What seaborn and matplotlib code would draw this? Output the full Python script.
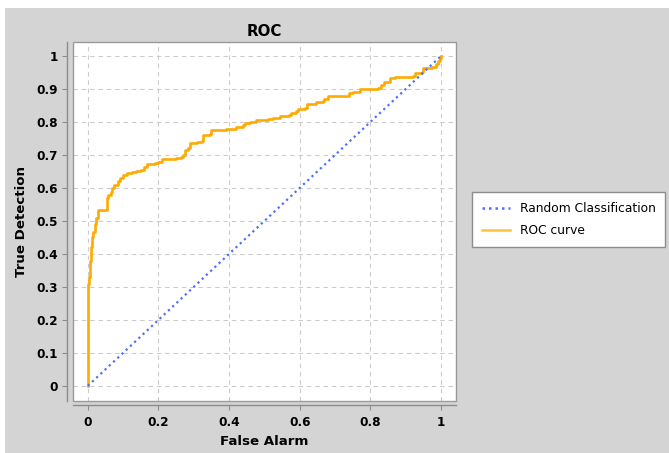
import matplotlib
matplotlib.use("Agg")
import matplotlib.pyplot as plt
from matplotlib.patches import Rectangle
from matplotlib.lines import Line2D
import seaborn as sns

# ROC operating points (false alarm rate, true detection rate)
fpr = [0.0, 0.0, 0.003, 0.006, 0.010, 0.013, 0.016, 0.020, 0.024, 0.030,
       0.052, 0.053, 0.058, 0.065, 0.068, 0.075, 0.085, 0.090, 0.100, 0.110,
       0.125, 0.135, 0.150, 0.160, 0.168, 0.190, 0.200, 0.210, 0.250, 0.265,
       0.270, 0.275, 0.285, 0.290, 0.310, 0.323, 0.327, 0.345, 0.350, 0.390,
       0.420, 0.440, 0.445, 0.460, 0.475, 0.510, 0.525, 0.545, 0.570, 0.575,
       0.590, 0.595, 0.615, 0.622, 0.645, 0.665, 0.670, 0.680, 0.720, 0.740,
       0.750, 0.770, 0.822, 0.830, 0.840, 0.855, 0.870, 0.920, 0.925, 0.945,
       0.950, 0.975, 0.985, 0.992, 0.996, 1.0]
tpr = [0.0, 0.310, 0.330, 0.380, 0.420, 0.450, 0.465, 0.490, 0.510, 0.533,
       0.533, 0.570, 0.578, 0.588, 0.600, 0.610, 0.622, 0.630, 0.638, 0.645,
       0.648, 0.652, 0.655, 0.662, 0.672, 0.677, 0.680, 0.688, 0.690, 0.695,
       0.700, 0.715, 0.720, 0.735, 0.738, 0.742, 0.760, 0.765, 0.776, 0.780,
       0.785, 0.790, 0.798, 0.800, 0.806, 0.808, 0.812, 0.818, 0.822, 0.828,
       0.832, 0.838, 0.842, 0.855, 0.860, 0.865, 0.870, 0.878, 0.880, 0.887,
       0.892, 0.900, 0.902, 0.912, 0.920, 0.932, 0.937, 0.938, 0.950, 0.952,
       0.965, 0.967, 0.975, 0.985, 0.995, 1.0]

# chance line
diag_x = [0.0, 1.0]
diag_y = [0.0, 1.0]

x_ticks = [0.0, 0.2, 0.4, 0.6, 0.8, 1.0]
x_tick_labels = ["0", "0.2", "0.4", "0.6", "0.8", "1"]
y_ticks = [0.0, 0.1, 0.2, 0.3, 0.4, 0.5, 0.6, 0.7, 0.8, 0.9, 1.0]
y_tick_labels = ["0", "0.1", "0.2", "0.3", "0.4", "0.5", "0.6", "0.7", "0.8", "0.9", "1"]

series_labels = ["Random Classification", "ROC curve"]

ORANGE = "#ffaa00"
BLUE = "#4f6ffa"
GRID = "#cccccc"
AXIS_GRAY = "#8c8c8c"
BG = "#d4d4d4"
DOTS = (0, (1.0, 1.6))

plt.rcParams["font.family"] = ["DejaVu Sans"]

W, H = 669, 453
fig = plt.figure(figsize=(W / 100, H / 100), dpi=100, facecolor="white")

# grey panel behind the chart (thin white margin at top and left)
fig.patches.append(Rectangle((5 / W, 0), 1 - 5 / W, 1 - 8 / H,
                             transform=fig.transFigure, facecolor=BG,
                             edgecolor="none", zorder=-10))

left, right, top, bottom = 73, 456, 42, 401
ax = fig.add_axes([left / W, 1 - bottom / H, (right - left) / W, (bottom - top) / H])
ax.set_facecolor("white")

sns.lineplot(x=fpr, y=tpr, ax=ax, color=ORANGE, lw=1.9, sort=False,
             estimator=None, drawstyle="steps-post", zorder=3, legend=False)
sns.lineplot(x=diag_x, y=diag_y, ax=ax, color=BLUE, lw=1.6, sort=False,
             estimator=None, zorder=4, legend=False)
ax.lines[-1].set_linestyle(DOTS)

ax.set_xlim(-0.042, 1.0425)
ax.set_ylim(-0.046, 1.0425)
ax.set_xticks(x_ticks)
ax.set_xticklabels(x_tick_labels)
ax.set_yticks(y_ticks)
ax.set_yticklabels(y_tick_labels)

# dashed grid: every 0.2 on x, every 0.1 on y
ax.grid(True, color=GRID, lw=0.8, linestyle=(0, (4, 3.5)), zorder=0)
ax.set_axisbelow(True)

# axis lines sit just outside the plot area
for side in ("top", "right"):
    ax.spines[side].set_visible(False)
ax.spines["left"].set_position(("outward", 4))
ax.spines["bottom"].set_position(("outward", 3))
for side in ("left", "bottom"):
    ax.spines[side].set_color(AXIS_GRAY)
    ax.spines[side].set_linewidth(1.0)

# outline of the plot area
ax.add_patch(Rectangle((0, 0), 1, 1, transform=ax.transAxes, fill=False,
                       edgecolor="#9a9a9a", lw=1.0, clip_on=False, zorder=5))

ax.tick_params(axis="both", direction="out", length=3.5, width=0.8,
               color=AXIS_GRAY, labelsize=8.7, labelcolor="black")
ax.tick_params(axis="x", pad=4.5)
ax.tick_params(axis="y", pad=3.5)
for lab in ax.get_xticklabels() + ax.get_yticklabels():
    lab.set_fontweight("bold")

ax.set_title("ROC", fontsize=10.8, fontweight="bold", pad=4)
ax.set_xlabel("False Alarm", fontsize=9.6, fontweight="bold", va="center")
ax.xaxis.set_label_coords(0.5, (bottom - 441.5) / (bottom - top))
ax.set_ylabel("True Detection", fontsize=9.6, fontweight="bold",
              va="center", ha="center")
ax.yaxis.set_label_coords((22 - left) / (right - left), 0.5)

handles = [Line2D([], [], color=BLUE, lw=1.8, linestyle=DOTS),
           Line2D([], [], color="#ffc23a", lw=1.8)]
leg = fig.legend(handles, series_labels, loc="upper left",
                 bbox_to_anchor=(472 / W, 1 - 192 / H),
                 bbox_transform=fig.transFigure, fontsize=8.8,
                 frameon=True, fancybox=False, framealpha=1.0,
                 handlelength=2.3, handletextpad=0.8, labelspacing=0.75,
                 borderpad=0.8, borderaxespad=0)
leg.get_frame().set_edgecolor("#8c8c8c")
leg.get_frame().set_linewidth(1.0)

fig.savefig("out.png", dpi=100, facecolor=fig.get_facecolor())
